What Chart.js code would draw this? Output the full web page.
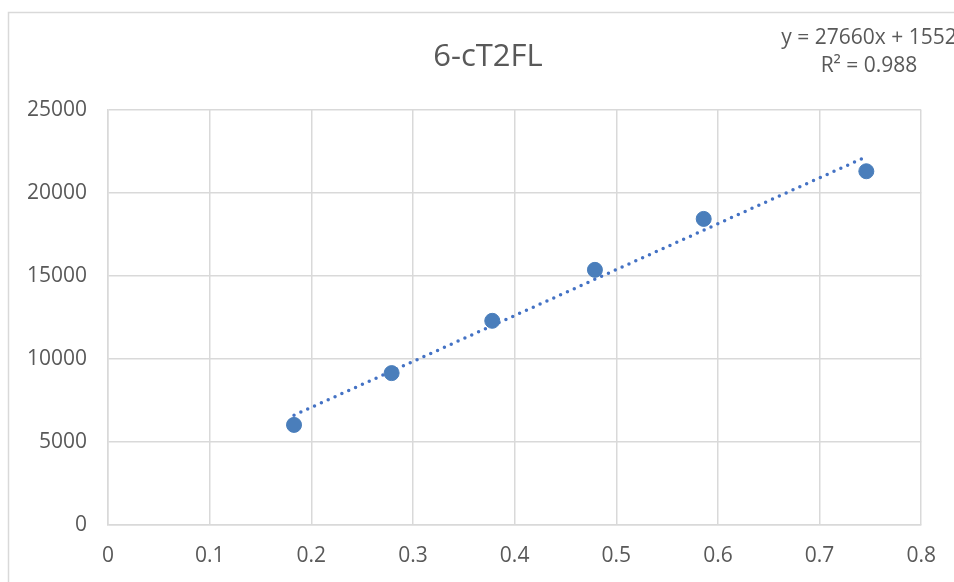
<!DOCTYPE html>
<html>
<head>
<meta charset="utf-8">
<script src="https://cdn.jsdelivr.net/npm/chart.js@4.4.0/dist/chart.umd.min.js"></script>
<style>
  html, body { margin: 0; padding: 0; background: #fff; }
  #wrap { width: 954px; height: 582px; }
</style>
</head>
<body>
<div id="wrap"><canvas id="myChart" width="954" height="582"></canvas></div>
<script>
const title = "6-cT2FL";
const xValues = [0.183, 0.279, 0.378, 0.479, 0.586, 0.746];
const yValues = [6030, 9150, 12300, 15370, 18440, 21310];
const xTicks = [0, 0.1, 0.2, 0.3, 0.4, 0.5, 0.6, 0.7, 0.8];
const yTicks = [0, 5000, 10000, 15000, 20000, 25000];

// linear trendline as stated in the label
const slope = 27660;
const intercept = 1552;
const rSquared = 0.988;

const colors = {
  marker: "#4a7ebb",
  trend: "#4472c4",
  grid: "#d9d9d9",
  text: "#595959",
};
const fontFamily = "'Open Sans', 'Noto Sans', sans-serif";

const xMin = Math.min(...xValues);
const xMax = Math.max(...xValues);
const trendPoints = [xMin, xMax].map((x) => ({ x: x, y: slope * x + intercept }));

// title, equation box and outer frame
const decorations = {
  id: "decorations",
  afterDraw(chart) {
    const ctx = chart.ctx;
    ctx.save();
    ctx.strokeStyle = "#d9d9d9";
    ctx.lineWidth = 1.5;
    ctx.beginPath();
    ctx.moveTo(8.5, 600);
    ctx.lineTo(8.5, 12.5);
    ctx.lineTo(980, 12.5);
    ctx.stroke();

    ctx.fillStyle = colors.text;
    ctx.textAlign = "center";
    ctx.textBaseline = "middle";
    ctx.font = "31px " + fontFamily;
    ctx.fillText(title, 488, 57);

    ctx.font = "21px " + fontFamily;
    ctx.fillText("y = " + slope + "x + " + intercept, 869, 38);
    ctx.fillText("R² = " + rSquared, 869, 66);
    ctx.restore();
  },
};

const ctx = document.getElementById("myChart").getContext("2d");
new Chart(ctx, {
  type: "scatter",
  data: {
    datasets: [
      {
        label: "trend",
        type: "line",
        data: trendPoints,
        borderColor: colors.trend,
        borderWidth: 3.5,
        borderDash: [0, 7.5],
        borderCapStyle: "round",
        pointRadius: 0,
        fill: false,
        order: 2,
      },
      {
        label: "data",
        data: xValues.map((x, i) => ({ x: x, y: yValues[i] })),
        backgroundColor: colors.marker,
        borderColor: colors.marker,
        pointRadius: 7.5,
        pointHoverRadius: 7.5,
        order: 1,
      },
    ],
  },
  options: {
    responsive: false,
    animation: false,
    layout: { padding: { top: 110, right: 30, left: 0, bottom: 0 } },
    plugins: {
      legend: { display: false },
      tooltip: { enabled: false },
    },
    scales: {
      x: {
        type: "linear",
        min: 0,
        max: 0.8,
        afterBuildTicks: (scale) => { scale.ticks = xTicks.map((v) => ({ value: v })); },
        afterFit: (scale) => { scale.height = 57; },
        grid: { color: colors.grid, lineWidth: 1.5, drawTicks: false },
        border: { color: colors.grid, width: 1.5 },
        ticks: {
          color: colors.text,
          font: { family: fontFamily, size: 21 },
          padding: 18,
          maxRotation: 0,
        },
      },
      y: {
        type: "linear",
        min: 0,
        max: 25000,
        afterBuildTicks: (scale) => { scale.ticks = yTicks.map((v) => ({ value: v })); },
        afterFit: (scale) => { scale.width = 108; },
        grid: { color: colors.grid, lineWidth: 1.5, drawTicks: false },
        border: { color: colors.grid, width: 1.5 },
        ticks: {
          color: colors.text,
          font: { family: fontFamily, size: 21 },
          padding: 21,
          callback: (v) => String(v),
        },
      },
    },
  },
  plugins: [decorations],
});
</script>
</body>
</html>
